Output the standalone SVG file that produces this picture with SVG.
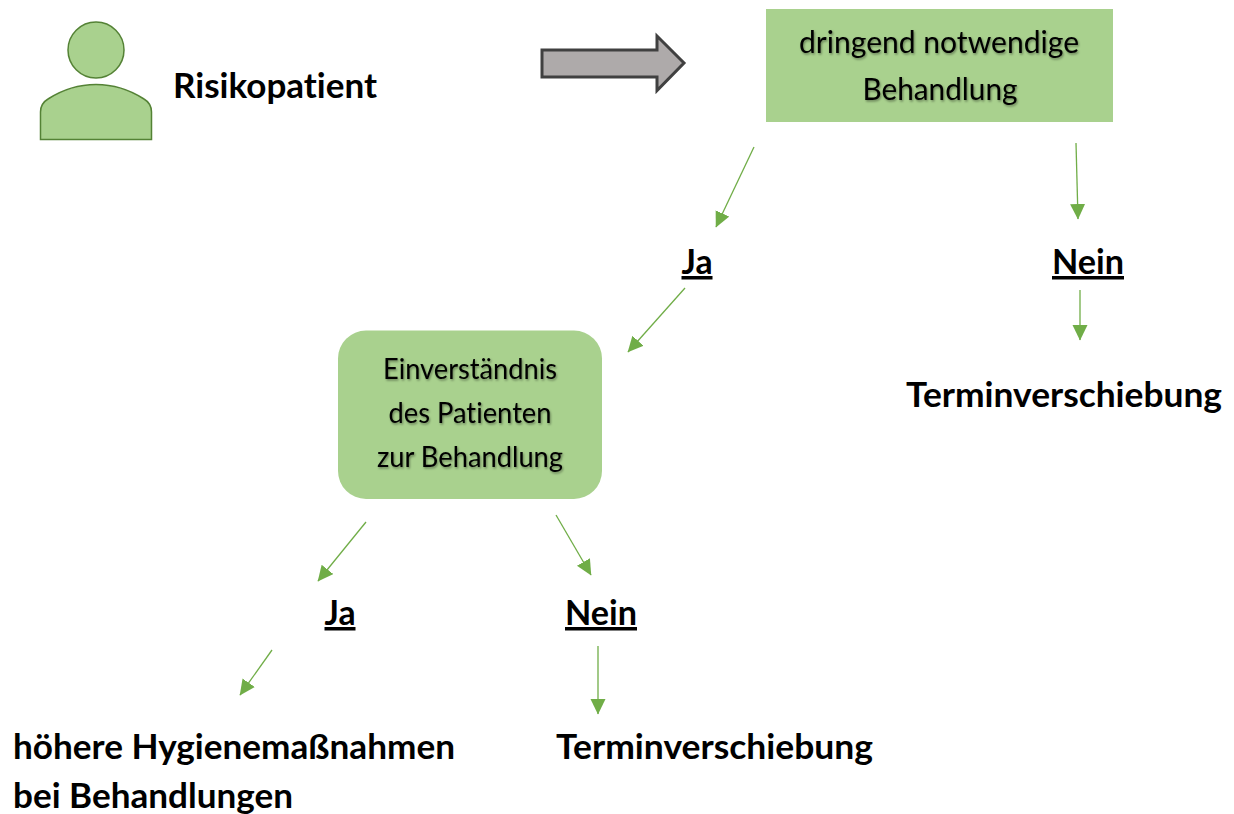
<svg xmlns="http://www.w3.org/2000/svg" width="1234" height="814" viewBox="0 0 1234 814">
<style>
text{font-family:Lato,"Open Sans","Liberation Sans",sans-serif;fill:#000;font-variant-ligatures:none}
.b{font-weight:700;font-size:35px}
.u{text-decoration:underline;text-anchor:middle}
.m{text-anchor:middle;font-size:28px;filter:url(#sh)}
.c{stroke:#70ad47;stroke-width:1.3;fill:none;marker-end:url(#ah)}
.g{fill:#a9d18e}
</style>
<defs>
<filter id="sh" x="-5%" y="-20%" width="110%" height="140%"><feDropShadow dx="1" dy="1.5" stdDeviation="1" flood-color="#000" flood-opacity="0.4"/></filter>
<marker id="ah" markerUnits="userSpaceOnUse" markerWidth="16" markerHeight="18" refX="15" refY="7.5" orient="auto"><path d="M0 0L15.500 7.500L0 15Z" fill="#70ad47"/></marker>
</defs>
<rect width="1234" height="814" fill="#fff"/>
<g id="risikopatient">
<circle class="g" cx="96" cy="50" r="28" stroke="#548235" stroke-width="1.5"/>
<path class="g" d="M40.500 139.500V112C40.500 106 43 102 48 99C62 90 80 84.500 96 84.500C112 84.500 130 90 144 99C149 102 151.500 106 151.500 112V139.500Z" stroke="#548235" stroke-width="1.5"/>
<text class="b" x="173" y="98" textLength="204" lengthAdjust="spacingAndGlyphs">Risikopatient</text>
</g>
<g id="block-arrow">
<path d="M542 50H657V36L684 63L657 90.500V77H542Z" fill="#aeaaaa" stroke="#404040" stroke-width="3"/>
</g>
<g id="dringend">
<rect class="g" x="766" y="9" width="347" height="113"/>
<text class="m" x="939" y="53" textLength="280" lengthAdjust="spacingAndGlyphs" style="font-size:30px">dringend notwendige</text>
<text class="m" x="940" y="100" textLength="155" lengthAdjust="spacingAndGlyphs" style="font-size:30px">Behandlung</text>
</g>
<g id="einverstaendnis">
<rect class="g" x="338" y="330.500" width="264" height="168.500" rx="28"/>
<text class="m" x="470" y="379" textLength="174" lengthAdjust="spacingAndGlyphs">Einverständnis</text>
<text class="m" x="470" y="423" textLength="163" lengthAdjust="spacingAndGlyphs">des Patienten</text>
<text class="m" x="470" y="467" textLength="186" lengthAdjust="spacingAndGlyphs">zur Behandlung</text>
</g>
<g id="ja1"><text class="b u" x="697" y="274" textLength="31" lengthAdjust="spacingAndGlyphs">Ja</text></g>
<g id="nein1"><text class="b u" x="1088" y="274" textLength="72" lengthAdjust="spacingAndGlyphs">Nein</text></g>
<g id="termin1"><text class="b" x="906" y="407" textLength="316" lengthAdjust="spacingAndGlyphs">Terminverschiebung</text></g>
<g id="ja2"><text class="b u" x="340" y="625" textLength="31" lengthAdjust="spacingAndGlyphs">Ja</text></g>
<g id="nein2"><text class="b u" x="601" y="625" textLength="72" lengthAdjust="spacingAndGlyphs">Nein</text></g>
<g id="hygiene">
<text class="b" x="13" y="759" textLength="442" lengthAdjust="spacingAndGlyphs">höhere Hygienemaßnahmen</text>
<text class="b" x="13" y="808" textLength="280" lengthAdjust="spacingAndGlyphs">bei Behandlungen</text>
</g>
<g id="termin2"><text class="b" x="556" y="759" textLength="317" lengthAdjust="spacingAndGlyphs">Terminverschiebung</text></g>
<g id="connectors">
<line class="c" x1="754" y1="147" x2="716" y2="227"/>
<line class="c" x1="1076" y1="143" x2="1078" y2="219"/>
<line class="c" x1="685" y1="288" x2="628" y2="352"/>
<line class="c" x1="1080" y1="290" x2="1080" y2="340"/>
<line class="c" x1="366" y1="522" x2="318" y2="581"/>
<line class="c" x1="556" y1="515" x2="591" y2="575"/>
<line class="c" x1="272" y1="650" x2="240" y2="695"/>
<line class="c" x1="598" y1="646" x2="598" y2="714"/>
</g>
</svg>
